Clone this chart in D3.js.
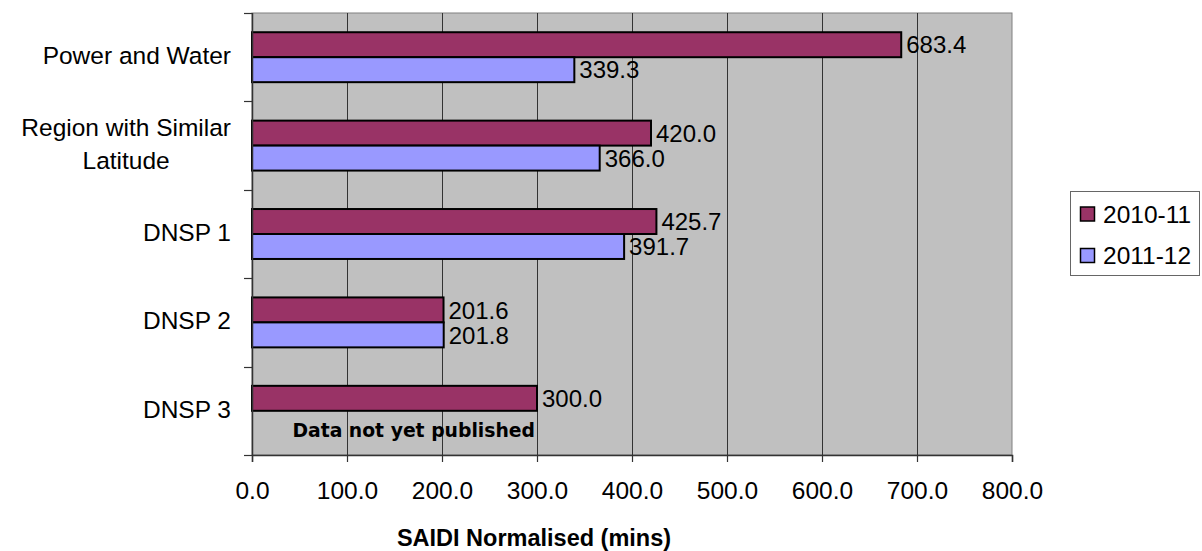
<!DOCTYPE html>
<html>
<head>
<meta charset="utf-8">
<script src="https://cdn.jsdelivr.net/npm/d3@7"></script>
<style>
  html, body { margin: 0; padding: 0; background: #fff; }
  svg { display: block; }
  text { font-family: "Liberation Sans", Arial, sans-serif; fill: #000; }
</style>
</head>
<body>
<svg id="chart" width="1202" height="551"></svg>
<script>
// SAIDI normalised (minutes) by network
const categories = ["Power and Water", "Region with Similar\nLatitude", "DNSP 1", "DNSP 2", "DNSP 3"];
const seriesNames = ["2010-11", "2011-12"];
const values2010 = [683.4, 420.0, 425.7, 201.6, 300.0];
const values2011 = [339.3, 366.0, 391.7, 201.8, null];
const xTicks = [0, 100, 200, 300, 400, 500, 600, 700, 800];
const seriesColors = ["#993366", "#9999FF"];
const missingNote = "Data not yet published";
const axisTitle = "SAIDI Normalised (mins)";

const svg = d3.select("#chart");
const plot = { left: 252, top: 13, right: 1012, bottom: 455 };

const x = d3.scaleLinear().domain([0, 800]).range([plot.left, plot.right]);
const y = d3.scaleBand().domain(categories).range([plot.top, plot.bottom]).paddingInner(0).paddingOuter(0);
const inner = d3.scaleBand().domain(seriesNames)
  .range([0, y.bandwidth()]).paddingInner(0).paddingOuter(0.77);

// plot background
svg.append("rect")
  .attr("x", plot.left).attr("y", plot.top)
  .attr("width", plot.right - plot.left).attr("height", plot.bottom - plot.top)
  .attr("fill", "#C0C0C0")
  .attr("stroke", "#808080").attr("stroke-width", 1);

// vertical gridlines
svg.append("g").selectAll("line")
  .data(xTicks.filter(d => d > 0 && d < 800))
  .join("line")
  .attr("x1", d => Math.round(x(d)) + 0.5).attr("x2", d => Math.round(x(d)) + 0.5)
  .attr("y1", plot.top).attr("y2", plot.bottom)
  .attr("stroke", "#333").attr("stroke-width", 1);

// bars with value labels
const rows = categories.map((c, i) => ({ cat: c, vals: [values2010[i], values2011[i]] }));
const barG = svg.append("g");
rows.forEach(r => {
  r.vals.forEach((v, j) => {
    if (v == null) return;
    const yy = y(r.cat) + inner(seriesNames[j]);
    barG.append("rect")
      .attr("x", x(0)).attr("y", yy)
      .attr("width", x(v) - x(0)).attr("height", inner.bandwidth())
      .attr("fill", seriesColors[j])
      .attr("stroke", "#000").attr("stroke-width", 2);
    barG.append("text")
      .attr("x", x(v) + 5).attr("y", yy + inner.bandwidth() / 2)
      .attr("dy", "0.36em")
      .style("font-size", "24px")
      .text(v.toFixed(1));
  });
});

// note for the missing 2011-12 value
rows.forEach(r => {
  if (r.vals[1] == null) {
    const yy = y(r.cat) + inner(seriesNames[1]);
    svg.append("text")
      .attr("x", x(r.vals[0]) - 2).attr("y", yy + inner.bandwidth() / 2 + 7)
      .attr("dy", "0.36em")
      .attr("text-anchor", "end")
      .style("font-family", "'DejaVu Sans', Verdana, sans-serif")
      .style("font-weight", "bold")
      .style("font-size", "18.8px")
      .text(missingNote);
  }
});

// left axis line and ticks
svg.append("line")
  .attr("x1", plot.left + 0.5).attr("x2", plot.left + 0.5)
  .attr("y1", plot.top).attr("y2", plot.bottom)
  .attr("stroke", "#333").attr("stroke-width", 1.5);
const yBounds = categories.map(c => y(c)).concat([plot.bottom]);
svg.append("g").selectAll("line").data(yBounds).join("line")
  .attr("x1", plot.left - 8).attr("x2", plot.left)
  .attr("y1", d => Math.round(d) + 0.5).attr("y2", d => Math.round(d) + 0.5)
  .attr("stroke", "#333").attr("stroke-width", 1.2);

// bottom axis
const xAxis = d3.axisBottom(x).tickValues(xTicks).tickSize(7).tickPadding(20)
  .tickFormat(d => d.toFixed(1));
const gx = svg.append("g").attr("transform", `translate(0,${plot.bottom})`).call(xAxis);
gx.select(".domain").attr("stroke", "#333").attr("stroke-width", 1.5);
gx.selectAll(".tick line").attr("stroke", "#333").attr("stroke-width", 1.2);
gx.selectAll(".tick text")
  .style("font-family", "'Liberation Sans', Arial, sans-serif")
  .style("font-size", "24.5px").attr("fill", "#000");

// category labels (multi-line labels are centred within their block)
const labelRight = 231;
categories.forEach(c => {
  const lines = c.split("\n");
  const cy = y(c) + y.bandwidth() / 2 - 2;
  const lh = 33;
  const t = svg.append("text").style("font-size", "24.5px");
  lines.forEach((ln, k) => {
    t.append("tspan").attr("y", cy + (k - (lines.length - 1) / 2) * lh).attr("dy", "0.36em").text(ln);
  });
  if (lines.length === 1) {
    t.attr("text-anchor", "end").selectAll("tspan").attr("x", labelRight);
  } else {
    const widths = [];
    t.selectAll("tspan").each(function () { widths.push(this.getComputedTextLength()); });
    const cx = labelRight - d3.max(widths) / 2;
    t.attr("text-anchor", "middle").selectAll("tspan").attr("x", cx);
  }
});

// axis title
svg.append("text")
  .attr("x", 534).attr("y", 546)
  .attr("text-anchor", "middle")
  .style("font-weight", "bold")
  .style("font-size", "23.5px")
  .text(axisTitle);

// legend
const lg = svg.append("g").attr("transform", "translate(1070,191)");
lg.append("rect").attr("x", 0.5).attr("y", 0.5).attr("width", 129).attr("height", 84)
  .attr("fill", "#fff").attr("stroke", "#666").attr("stroke-width", 1);
seriesNames.forEach((s, i) => {
  const cy = 23 + i * 41.5;
  lg.append("rect").attr("x", 10.5).attr("y", cy - 7).attr("width", 14).attr("height", 14)
    .attr("fill", seriesColors[i]).attr("stroke", "#000").attr("stroke-width", 1.5);
  lg.append("text").attr("x", 33).attr("y", cy).attr("dy", "0.36em")
    .style("font-size", "24.5px").text(s);
});
</script>
</body>
</html>
